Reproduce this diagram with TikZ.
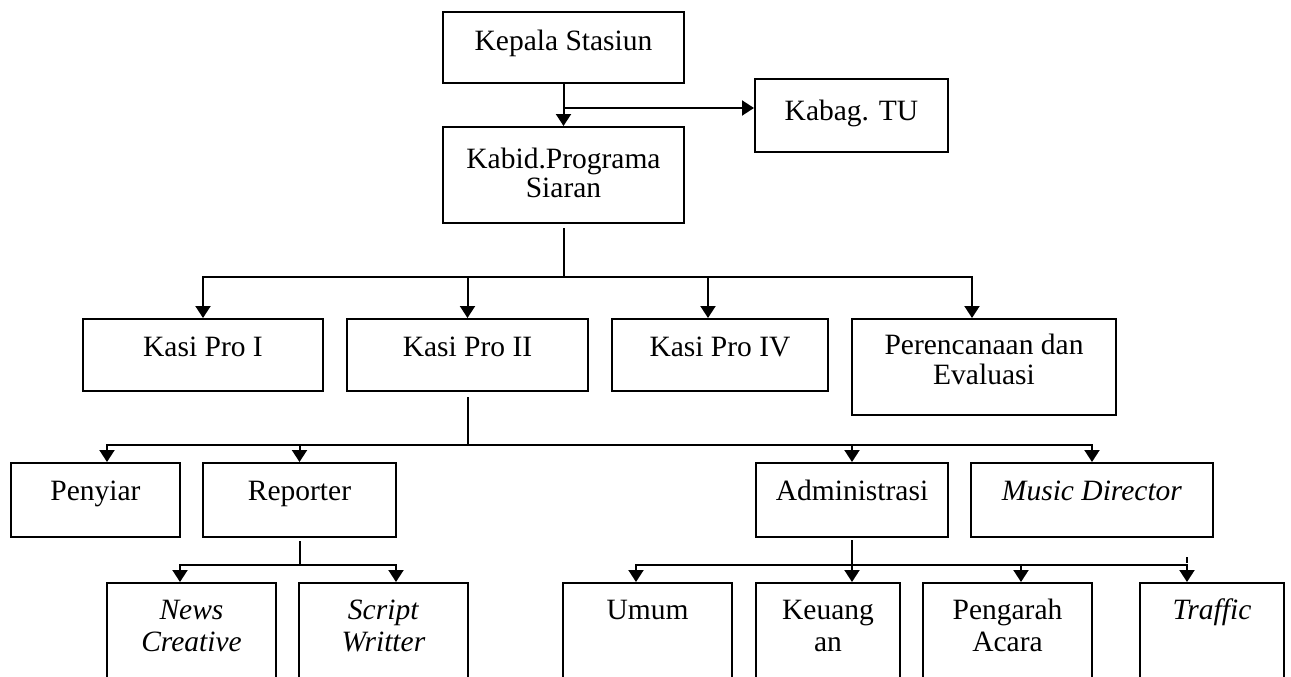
\documentclass[tikz,border=0pt]{standalone}
\usepackage{fontspec}
\setmainfont{Liberation Serif}
\usetikzlibrary{arrows.meta,calc}
\tikzset{
  box/.style 2 args={draw, line width=2pt, inner sep=0pt, minimum width=#1, minimum height=#2},
  lbl/.style={anchor=base, inner sep=0pt, font=\fontsize{29.5}{32}\selectfont},
  ln/.style={line width=2pt},
  arr/.style={line width=2pt, -{Triangle[length=12pt,width=15pt]}},
}
\newcommand{\twol}[2]{\begin{tabular}[t]{@{}c@{}}#1\\#2\end{tabular}}
\begin{document}
\begin{tikzpicture}[x=1pt,y=-1pt]
\useasboundingbox (0,0) rectangle (1291,677);
\fill[white] (0,0) rectangle (1291,677);
\clip (0,0) rectangle (1291,677);

% top levels
\node[box={241pt}{71pt}, label={[lbl,yshift=-40pt]north:Kepala Stasiun}] (kepala) at (563.5,47.5) {};
\node[box={193pt}{73pt}, label={[lbl,yshift=-43pt]north:Kabag. TU}] (kabag) at (851.5,115.5) {};
\node[box={241pt}{96pt}, label={[lbl,yshift=-42pt]north:{\begin{tabular}[t]{@{}c@{}}Kabid.Programa\\[-3pt]Siaran\end{tabular}}}] (kabid) at (563.5,175) {};

% Kasi row
\node[box={240pt}{72pt}, label={[lbl,yshift=-38pt]north:Kasi Pro I}] (kp1) at (203,355) {};
\node[box={241pt}{72pt}, label={[lbl,yshift=-38pt]north:Kasi Pro II}] (kp2) at (467.5,355) {};
\node[box={216pt}{72pt}, label={[lbl,yshift=-38pt]north:Kasi Pro IV}] (kp4) at (720,355) {};
\node[box={264pt}{96pt}, label={[lbl,yshift=-36pt]north:{\begin{tabular}[t]{@{}c@{}}Perencanaan dan\\[-2pt]Evaluasi\end{tabular}}}] (pe) at (984,367) {};

% second row
\node[box={169pt}{74pt}, label={[lbl,yshift=-38pt]north:Penyiar}] (penyiar) at (95.5,500) {};
\node[box={193pt}{74pt}, label={[lbl,yshift=-38pt]north:Reporter}] (reporter) at (299.5,500) {};
\node[box={192pt}{74pt}, label={[lbl,yshift=-38pt]north:Administrasi}] (admin) at (852,500) {};
\node[box={242pt}{74pt}, label={[lbl,yshift=-38pt]north:\textit{Music Director}}] (music) at (1092,500) {};

% third row
\node[box={169pt}{117pt}, label={[lbl,yshift=-37pt]north:{\twol{\textit{News}}{\textit{Creative}}}}] (news) at (191.5,641.5) {};
\node[box={169pt}{117pt}, label={[lbl,yshift=-37pt]north:{\twol{\textit{Script}}{\textit{Writter}}}}] (script) at (383.5,641.5) {};
\node[box={169pt}{117pt}, label={[lbl,yshift=-37pt]north:Umum}] (umum) at (647.5,641.5) {};
\node[box={144pt}{117pt}, label={[lbl,yshift=-37pt]north:{\twol{Keuang}{an}}}] (keu) at (828,641.5) {};
\node[box={169pt}{117pt}, label={[lbl,yshift=-37pt]north:{\twol{Pengarah}{Acara}}}] (peng) at (1007.5,641.5) {};
\node[box={144pt}{117pt}, label={[lbl,yshift=-37pt]north:\textit{Traffic}}] (traffic) at (1212,641.5) {};

% connectors top
\draw[arr] (kepala) -- (kabid);
\coordinate (j1) at ($(kepala.south)+(0,24)$);
\draw[arr] (j1) -- (j1 -| kabag.west);

% Kabid to Kasi row
\coordinate (b1) at ($(kabid.south)+(0,53)$);
\draw[ln] ([yshift=-4pt]kabid.south) -- (b1);
\draw[arr] (b1) -| (kp1.north);
\draw[arr] (b1) -| (kp2.north);
\draw[arr] (b1) -| ([xshift=-12pt]kp4.north);
\draw[arr] (b1) -| ([xshift=-12pt]pe.north);

% Kasi Pro II to second row
\coordinate (b2) at ($(kp2.south)+(0,53)$);
\draw[ln] ([yshift=-5pt]kp2.south) -- (b2);
\draw[arr] (b2) -| ([xshift=11.5pt]penyiar.north);
\draw[arr] (b2) -| (reporter.north);
\draw[arr] (b2) -| (admin.north);
\draw[arr] (b2) -| (music.north);

% Reporter to third row
\coordinate (b3) at ($(reporter.south)+(0,27)$);
\draw[ln] ([yshift=-3pt]reporter.south) -- (b3);
\draw[arr] (b3) -| ([xshift=-11.5pt]news.north);
\draw[arr] (b3) -| ([xshift=12.5pt]script.north);

% Administrasi to third row
\coordinate (b4) at ($(admin.south)+(0,27)$);
\draw[arr] ([yshift=-2pt]admin.south) -- ([xshift=24pt]keu.north);
\draw[arr] (b4) -| ([xshift=-11.5pt]umum.north);
\draw[arr] (b4) -| ([xshift=13.5pt]peng.north);
\draw[arr] (b4) -| ([xshift=-25pt]traffic.north);
\draw[ln] ([xshift=-25pt,yshift=25pt]traffic.north) -- ([xshift=-25pt,yshift=19pt]traffic.north);
\end{tikzpicture}
\end{document}
